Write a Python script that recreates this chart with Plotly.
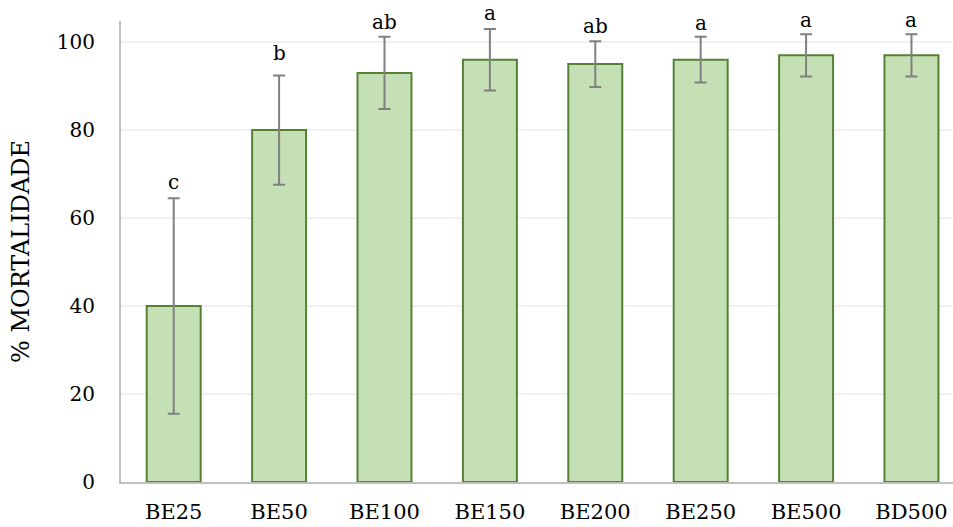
import plotly.graph_objects as go

# Treatments, mean mortality (%) and error (±)
tratamentos = ["BE25", "BE50", "BE100", "BE150", "BE200", "BE250", "BE500", "BD500"]
mortalidade = [40, 80, 93, 96, 95, 96, 97, 97]
erro = [24.5, 12.4, 8.2, 7.0, 5.2, 5.2, 4.8, 4.8]
letras = ["c", "b", "ab", "a", "ab", "a", "a", "a"]
# vertical nudge (px) of each significance letter above its error bar
desloc_letras = [2, 9, 1, 2, 1, 0, 0, 0]

FONT = "DejaVu Serif"

fig = go.Figure()
fig.add_trace(go.Bar(
    x=tratamentos,
    y=mortalidade,
    width=0.512,
    marker=dict(color="#c5e0b4", line=dict(color="#548235", width=2)),
    error_y=dict(type="data", array=erro, visible=True,
                 color="#808080", thickness=2, width=6),
    hoverinfo="skip",
))

for t, m, e, l, s in zip(tratamentos, mortalidade, erro, letras, desloc_letras):
    fig.add_annotation(
        x=t, y=m + e, text=l, showarrow=False,
        yanchor="bottom", yshift=s,
        font=dict(family=FONT, size=20, color="#000000"),
    )

fig.update_layout(
    width=953, height=527,
    margin=dict(l=121, r=0, t=21, b=45),
    paper_bgcolor="white", plot_bgcolor="white",
    showlegend=False,
    font=dict(family=FONT, size=20, color="#000000"),
    bargap=0.488,
)
fig.update_xaxes(
    range=[-0.5, 7.394],
    showline=True, linecolor="#bfbfbf", linewidth=2,
    showgrid=False, ticks="", zeroline=False,
    ticklabelstandoff=10,
    tickfont=dict(family=FONT, size=21),
)
fig.update_yaxes(
    range=[0, 104.8],
    tickvals=[0, 20, 40, 60, 80, 100],
    showline=True, linecolor="#bfbfbf", linewidth=2,
    showgrid=True, gridcolor="#f0f0f0", gridwidth=1.5,
    zeroline=False, ticks="",
    ticklabelstandoff=20,
    tickfont=dict(family=FONT, size=20),
    title=dict(text="% MORTALIDADE", font=dict(family=FONT, size=24), standoff=20),
)

fig.write_html("out.html")
